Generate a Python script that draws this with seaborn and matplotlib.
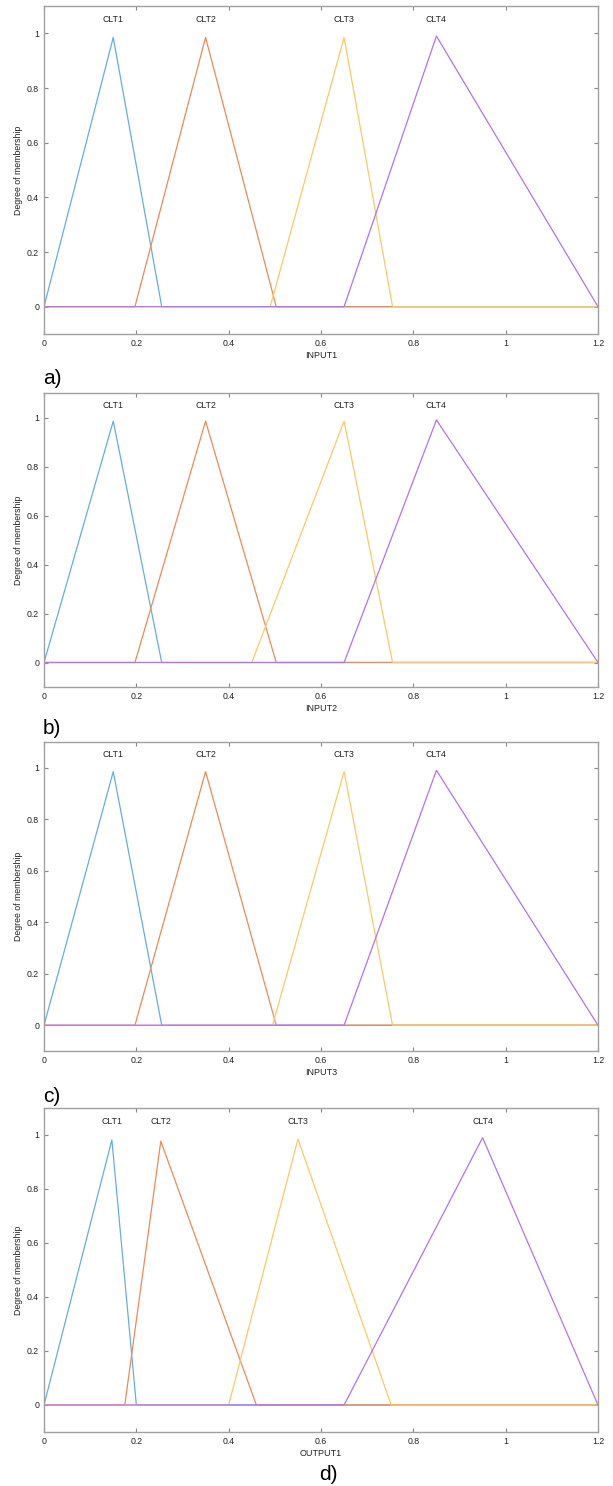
import numpy as np
import pandas as pd
import matplotlib
matplotlib.use("Agg")
import matplotlib.pyplot as plt
import seaborn as sns

# membership functions: [left foot, peak, right foot] per cluster
names = ["CLT1", "CLT2", "CLT3", "CLT4"]
xlabels = ["INPUT1", "INPUT2", "INPUT3", "OUTPUT1"]
tags = ["a)", "b)", "c)", "d)"]

in1_tri = [[0.0, 0.15, 0.255], [0.197, 0.35, 0.503], [0.49, 0.65, 0.755], [0.65, 0.85, 1.2]]
in2_tri = [[0.0, 0.15, 0.255], [0.197, 0.35, 0.503], [0.45, 0.65, 0.755], [0.65, 0.85, 1.2]]
in3_tri = [[0.0, 0.15, 0.255], [0.197, 0.35, 0.503], [0.495, 0.65, 0.755], [0.65, 0.85, 1.2]]
out1_tri = [[0.0, 0.147, 0.2], [0.175, 0.253, 0.46], [0.4, 0.55, 0.752], [0.65, 0.95, 1.2]]

in_peaks = [0.985, 0.985, 0.985, 0.99]
out_peaks = [0.982, 0.977, 0.985, 0.99]

colors = ["#63aee6", "#f08a55", "#fdc963", "#b472f5"]

panels = [(in1_tri, in_peaks), (in2_tri, in_peaks), (in3_tri, in_peaks), (out1_tri, out_peaks)]

# axes rectangles in figure pixels (top, bottom) for 613x1486
W, H = 613, 1486
rows = [(6, 334), (393, 687), (742, 1051), (1108, 1432)]
tag_y = [378, 729, 1096, 1475]

sns.set_theme(style="white")
plt.rcParams['font.family'] = ['Liberation Sans', 'DejaVu Sans']

fig = plt.figure(figsize=(W / 100, H / 100), dpi=100)

for i, (tri, peaks) in enumerate(panels):
    top, bot = rows[i]
    ax = fig.add_axes([44 / W, 1 - bot / H, (598 - 44) / W, (bot - top) / H])
    for k, (t, h) in enumerate(zip(tri, peaks)):
        xs = [0.0, t[0], t[1], t[2], 1.2]
        ys = [0.0, 0.0, h, 0.0, 0.0]
        df = pd.DataFrame({"x": xs, "y": ys})
        sns.lineplot(data=df, x="x", y="y", color=colors[k], lw=0.9,
                     estimator=None, sort=False, ax=ax)
        ax.text(t[1], 1.05, names[k], ha="center", va="center",
                fontsize=6.3, color="#222222")
    ax.set_xlim(0, 1.2)
    ax.set_ylim(-0.1, 1.1)
    ax.set_xticks([0, 0.2, 0.4, 0.6, 0.8, 1, 1.2])
    ax.set_xticklabels(["0", "0.2", "0.4", "0.6", "0.8", "1", "1.2"])
    ax.set_yticks([0, 0.2, 0.4, 0.6, 0.8, 1])
    ax.set_yticklabels(["0", "0.2", "0.4", "0.6", "0.8", "1"])
    ax.tick_params(direction="in", length=3, width=0.8, color="#888888",
                   labelsize=6.3, labelcolor="#222222", top=True, right=True,
                   bottom=True, left=True, pad=3.5)
    for s in ax.spines.values():
        s.set_color("#a0a0a0")
        s.set_linewidth(1.0)
    ax.set_xlabel(xlabels[i], fontsize=6.5, color="#222222", labelpad=2)
    ax.set_ylabel("Degree of membership", fontsize=6.3, color="#222222", labelpad=3)
    ax.grid(False)

    if i < 3:
        fig.text(43 / W, 1 - tag_y[i] / H, tags[i], ha="left", va="center",
                 fontsize=15, color="black")
    else:
        fig.text(328 / W, 1 - tag_y[i] / H, tags[i], ha="center", va="center",
                 fontsize=15, color="black")

fig.savefig("out.png", dpi=100)
